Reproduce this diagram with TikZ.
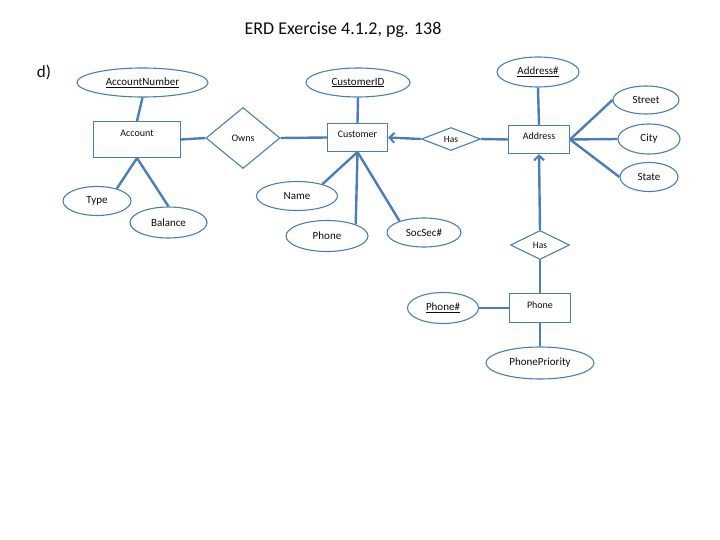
\documentclass[tikz,border=0pt]{standalone}
\usepackage{fontspec}
\setmainfont{Carlito}
\usetikzlibrary{shapes.geometric,arrows.meta,backgrounds}
\definecolor{erdblue}{HTML}{4A7EBB}
\definecolor{erdtext}{HTML}{0D0D0D}
\tikzset{
  attr/.style={ellipse, draw=erdblue, line width=1.1pt, fill=white, inner sep=0pt, text=erdtext, font=\fontsize{11}{13}\selectfont},
  entity/.style={rectangle, draw=erdblue, line width=1.1pt, fill=white, inner sep=0pt, text=erdtext, font=\fontsize{10}{12}\selectfont, text height=7pt, text depth=6pt},
  rel/.style={diamond, draw=erdblue, line width=1.1pt, fill=white, inner sep=0pt, aspect=2, text=erdtext, font=\fontsize{10}{12}\selectfont},
  conn/.style={draw=erdblue, line width=2.4pt},
  arrconn/.style={conn, -{Straight Barb[length=5pt,width=10pt,line width=2pt]}},
}
\begin{document}
\begin{tikzpicture}[x=1pt,y=-1pt]
\useasboundingbox (0,0) rectangle (720,540);
\node[font=\fontsize{18}{21}\selectfont, text=erdtext] (title) at (343,30) {ERD Exercise 4.1.2, pg. 138};
\node[font=\fontsize{17}{20}\selectfont, text=erdtext] (d) at (44,72) {d)};

% entities
\node[entity, minimum width=87pt, minimum height=36pt, text depth=13.5pt] (acc) at (137,139.5) {Account};
\node[entity, minimum width=60pt, minimum height=28pt] (cust) at (357.5,137.5) {Customer};
\node[entity, minimum width=61pt, minimum height=28pt] (addr) at (539,139.5) {Address};
\node[entity, minimum width=61pt, minimum height=29pt] (ph) at (540,308) {Phone};

% relationships
\node[rel, minimum width=74pt, minimum height=61pt, aspect=1.2] (owns) at (243,138) {Owns};
\node[rel, minimum width=59pt, minimum height=23pt, aspect=2.5, font=\fontsize{9.5}{11}\selectfont] (has1) at (451,139) {Has};
\node[rel, minimum width=59pt, minimum height=29pt, font=\fontsize{9.5}{11}\selectfont] (has2) at (540,245) {Has};

% attributes
\node[attr, minimum width=131pt, minimum height=29pt] (an) at (142.5,82.5) {\underline{AccountNumber}};
\node[attr, minimum width=68pt, minimum height=29pt] (type) at (97,201) {Type};
\node[attr, minimum width=77pt, minimum height=31pt] (bal) at (168.5,222.5) {Balance};
\node[attr, minimum width=104pt, minimum height=29pt] (cid) at (358,82.5) {\underline{CustomerID}};
\node[attr, minimum width=81pt, minimum height=29pt] (name) at (297,196) {Name};
\node[attr, minimum width=82pt, minimum height=31pt] (cph) at (327,236) {Phone};
\node[attr, minimum width=74pt, minimum height=29pt] (ssn) at (424,232.5) {SocSec\#};
\node[attr, minimum width=82pt, minimum height=30pt] (addrn) at (538,72) {\underline{Address\#}};
\node[attr, minimum width=66pt, minimum height=28pt] (street) at (646,100) {Street};
\node[attr, minimum width=62pt, minimum height=30pt] (city) at (649,139) {City};
\node[attr, minimum width=58pt, minimum height=29pt] (state) at (649,177) {State};
\node[attr, minimum width=71pt, minimum height=31pt] (phn) at (443,308) {\underline{Phone\#}};
\node[attr, minimum width=108pt, minimum height=32pt] (pp) at (540,363) {PhonePriority};

% connectors
\begin{scope}[on background layer]
\draw[conn] (an.south) -- (acc.north);
\draw[conn] (acc.south) -- (type.32);
\draw[conn] (acc.south) -- (bal.north);
\draw[conn] (acc.east) -- (owns.west);
\draw[conn] (owns.east) -- (cust.west);
\draw[conn] (cid.south) -- (cust.north);
\draw[conn] (cust.south) -- (name.25);
\draw[conn] (cust.south) -- (cph.22);
\draw[conn] (cust.south) -- (ssn.155);
\draw[conn] (has1.east) -- (addr.west);
\draw[conn] (addrn.south) -- (addr.north);
\draw[conn] (addr.east) -- (street.west);
\draw[conn] (addr.east) -- (city.west);
\draw[conn] (addr.east) -- (state.west);
\draw[conn] (has2.south) -- (ph.north);
\draw[conn] (phn.east) -- (ph.west);
\draw[conn] (ph.south) -- (pp.north);
\end{scope}
\draw[arrconn] (has1.west) -- (cust.east);
\draw[arrconn] (has2.north) -- (addr.south);
\end{tikzpicture}
\end{document}
